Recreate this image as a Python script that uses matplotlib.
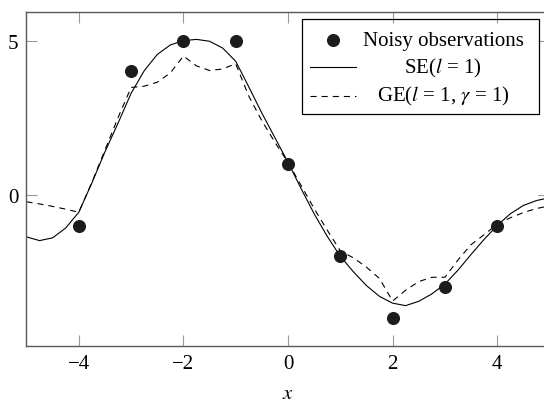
"""GP regression posterior means: SE vs GE kernel on noisy observations."""

import matplotlib
matplotlib.use('Agg')
import matplotlib.pyplot as plt
from matplotlib.lines import Line2D
from matplotlib.patches import Rectangle

plt.rcParams['font.family'] = ['Liberation Serif', 'DejaVu Serif']
plt.rcParams['mathtext.fontset'] = 'stix'
plt.rcParams['font.size'] = 15

# Noisy observations
obs_x = [-4, -3, -2, -1, 0, 1, 2, 3, 4]
obs_y = [-1, 4, 5, 5, 1, -2, -4, -3, -1]

# Posterior means at a 0.25 step
grid_x = [-5.0, -4.75, -4.5, -4.25, -4.0, -3.75, -3.5, -3.25, -3.0, -2.75,
          -2.5, -2.25, -2.0, -1.75, -1.5, -1.25, -1.0, -0.75, -0.5, -0.25,
          0.0, 0.25, 0.5, 0.75, 1.0, 1.25, 1.5, 1.75, 2.0, 2.25,
          2.5, 2.75, 3.0, 3.25, 3.5, 3.75, 4.0, 4.25, 4.5, 4.75, 5.0]
se_mean = [-1.37, -1.49, -1.40, -1.08, -0.57, 0.38, 1.39, 2.32, 3.29, 4.02,
           4.55, 4.86, 5.00, 5.04, 4.98, 4.76, 4.33, 3.50, 2.65, 1.85,
           1.05, 0.20, -0.62, -1.35, -2.00, -2.50, -2.95, -3.30, -3.52, -3.60,
           -3.46, -3.22, -2.90, -2.45, -1.94, -1.45, -1.00, -0.62, -0.35, -0.19, -0.10]
ge_mean = [-0.23, -0.30, -0.38, -0.47, -0.57, 0.40, 1.45, 2.50, 3.48, 3.52,
           3.65, 3.95, 4.50, 4.18, 4.03, 4.08, 4.25, 3.20, 2.40, 1.70,
           1.05, 0.30, -0.45, -1.15, -1.82, -2.05, -2.35, -2.72, -3.45, -3.10,
           -2.82, -2.68, -2.68, -2.12, -1.62, -1.30, -0.95, -0.75, -0.58, -0.45, -0.36]

labels = ['Noisy observations', r'SE($l$ = 1)', r'GE($l$ = 1, $\gamma$ = 1)']

fig = plt.figure(figsize=(5.44, 4.06), dpi=100)
ax = fig.add_axes([0.0487, 0.1461, 0.9614, 0.8212])

dash = (5.5, 4.5)
ax.plot(grid_x, se_mean, color='black', lw=0.8)
ax.plot(grid_x, ge_mean, color='black', lw=0.8, dashes=dash)
ax.plot(obs_x, obs_y, 'o', color='#1c1c1c', markersize=8.4, zorder=3)

ax.set_xlim(-5, 5)
ax.set_ylim(-4.9, 5.92)
ax.set_xticks([-4, -2, 0, 2, 4])
ax.set_yticks([0, 5])
ax.tick_params(direction='in', length=8, width=0.8, color='0.6', pad=6,
               top=True, right=True, labelsize=15)
for sp in ax.spines.values():
    sp.set_color('0.35')
    sp.set_linewidth(1.0)
ax.set_xlabel(r'$x$', fontsize=15, labelpad=8)

# Legend drawn by hand so the labels can be centred like pgfplots does
tr = ax.transAxes
ax.add_patch(Rectangle((0.527, 0.695), 0.452, 0.285, transform=tr, fill=False,
                       edgecolor='black', lw=0.9, zorder=4))
ax.add_line(Line2D([0.587], [0.918], transform=tr, marker='o', color='#1c1c1c',
                   markersize=8.4, linestyle='none', zorder=5))
ax.add_line(Line2D([0.543, 0.630], [0.835, 0.835], transform=tr, color='black',
                   lw=0.8, zorder=5))
ax.add_line(Line2D([0.543, 0.630], [0.750, 0.750], transform=tr, color='black',
                   lw=0.8, dashes=dash, zorder=5))
for lab, yb in zip(labels, [0.903, 0.818, 0.735]):
    ax.text(0.797, yb, lab, transform=tr, ha='center', va='baseline', fontsize=15, zorder=5)

fig.savefig('out.png', dpi=100)
